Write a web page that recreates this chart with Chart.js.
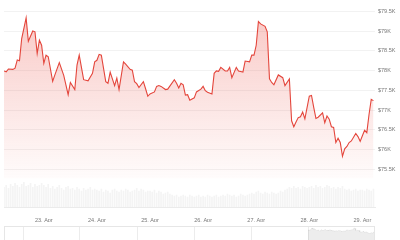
<!DOCTYPE html>
<html lang="en">
<head>
    <meta charset="UTF-8">
    <title>BTC price</title>
    <script src="https://cdn.jsdelivr.net/npm/chart.js"></script>
    <style>
        body {
            margin: 0;
            padding: 0;
            background: #fff;
            font-family: 'Liberation Sans', Arial, sans-serif;
        }
        #wrap {
            position: relative;
            width: 400px;
            height: 240px;
        }
        #priceChart {
            position: absolute;
            left: 0;
            top: 0;
        }
        #navChart {
            position: absolute;
            left: 0;
            top: 222px;
        }
    </style>
</head>
<body>
<div id="wrap">
    <canvas id="priceChart" width="400" height="222"></canvas>
    <canvas id="navChart" width="400" height="18"></canvas>
</div>

<script>
    // hours counted from 22 Apr 00:00
    const priceHours = [
        6, 7, 8, 10, 11, 12, 13, 14, 16, 17, 19, 20, 21, 22, 23,
        24, 25, 26, 28, 29, 31, 33, 35, 36, 38, 39, 40, 42, 44, 46, 47,
        48, 49, 50, 52, 53, 54, 56, 57, 58, 60, 61, 63, 64, 65, 66, 67, 69, 70, 71,
        72, 74, 75, 76, 77, 79, 80, 83, 84, 85, 86, 87, 88, 89, 90, 92, 93, 95,
        96, 97, 98, 100, 101, 102, 103, 104, 106, 107, 108, 109, 111, 112, 114, 115, 117, 118, 119,
        120, 121, 122, 124, 125, 126, 127, 128, 130, 132, 133, 135, 136, 137, 138, 139, 140, 141, 142,
        144, 145, 146, 147, 148, 150, 151, 152, 153, 154, 155, 156, 157, 158, 159, 160, 161, 162, 163, 165, 166, 167,
        168, 169, 170, 171, 172, 173
    ];
    const prices = [
        77990, 77970, 78040, 78030, 78060, 78270, 78250, 78810, 79330, 78740, 79000, 78980, 78430, 78770, 78640,
        78180, 78390, 78350, 77730, 77890, 78200, 77880, 77390, 77700, 77520, 78140, 78390, 77770, 77740, 77930, 78220,
        78260, 78410, 78390, 77720, 77680, 77960, 77620, 77810, 77520, 78220, 78160, 78030, 78010, 77720, 77670, 77570, 77720, 77540, 77350,
        77410, 77460, 77600, 77620, 77600, 77520, 77530, 77770, 77680, 77560, 77680, 77640, 77380, 77390, 77250, 77310, 77460, 77530,
        77600, 77490, 77450, 77410, 77930, 77990, 77980, 78080, 77990, 77990, 78080, 77820, 78080, 77990, 77960, 78240, 78220, 78390, 78390,
        78640, 79240, 79180, 79120, 78980, 77790, 77700, 77640, 77890, 77820, 77620, 77790, 76730, 76580, 76700, 76810, 76830, 76950, 76780,
        77350, 77370, 77070, 76790, 76820, 76930, 76680, 76850, 76770, 76580, 76560, 76180, 76290, 76180, 75830, 76020, 76080, 76180, 76220, 76410, 76330, 76210,
        76350, 76490, 76430, 76890, 77270, 77240
    ];

    // hourly volume, first bar at hour 6
    const volStartHour = 6;
    const volumes = [
        20, 22, 19, 23, 21, 24, 22, 20, 23, 25, 21, 22, 24, 20, 23, 21, 22, 24,
        22, 20, 23, 19, 21, 18, 20, 22, 19, 17, 20, 21, 18, 19, 17, 20, 18, 16, 19, 17, 18, 20, 17, 18,
        17, 16, 18, 15, 17, 16, 14, 17, 18, 16, 15, 17, 16, 18, 17, 15, 16, 17, 19, 16, 18, 17, 15, 16,
        16, 15, 17, 14, 16, 15, 13, 14, 15, 13, 12, 11, 12, 10, 11, 12, 11, 10, 12, 11, 10, 11, 12, 10,
        11, 10, 12, 11, 10, 11, 12, 10, 11, 12, 11, 13, 12, 11, 12, 10, 11, 13, 12, 11, 12, 13, 14, 13,
        15, 16, 14, 13, 15, 14, 13, 15, 14, 13, 14, 16, 15, 17, 18, 20, 19, 21, 19, 20, 18, 21, 20, 19,
        20, 21, 19, 22, 20, 21, 19, 20, 22, 21, 19, 20, 18, 20, 19, 21, 18, 17, 18, 16, 17, 18, 16, 17,
        17, 16, 18, 17, 16, 18
    ];

    const dayTicks = [24, 48, 72, 96, 120, 144, 168];
    const dayLabels = ['23. Apr', '24. Apr', '25. Apr', '26. Apr', '27. Apr', '28. Apr', '29. Apr'];
    const priceTicks = [75500, 76000, 76500, 77000, 77500, 78000, 78500, 79000, 79500];
    const navTicks = [-707, -565, -422, -279, -136, 6];

    const lineRed = 'rgb(228, 70, 60)';
    const fontSmall = { family: "'Liberation Sans', Arial, sans-serif", size: 5.5 };

    function areaGradient(context) {
        const area = context.chart.chartArea;
        if (!area) return 'rgba(232, 80, 70, 0.2)';
        const g = context.chart.ctx.createLinearGradient(0, area.top, 0, 178);
        g.addColorStop(0, 'rgba(235, 80, 70, 0.32)');
        g.addColorStop(1, 'rgba(235, 80, 70, 0.02)');
        return g;
    }

    new Chart(document.getElementById('priceChart'), {
        data: {
            datasets: [{
                type: 'line',
                data: priceHours.map((h, i) => ({ x: h, y: prices[i] })),
                borderColor: lineRed,
                borderWidth: 1.1,
                pointRadius: 0,
                tension: 0,
                fill: { value: 75275 },
                backgroundColor: areaGradient,
                yAxisID: 'y',
                order: 0
            }, {
                type: 'bar',
                data: volumes.map((v, i) => ({ x: volStartHour + i, y: v })),
                backgroundColor: '#f4f4f4',
                barThickness: 1,
                yAxisID: 'yv',
                order: 1
            }]
        },
        options: {
            responsive: false,
            animation: false,
            layout: { padding: { left: 4, top: 4, right: 0, bottom: 0 } },
            plugins: { legend: { display: false }, tooltip: { enabled: false } },
            scales: {
                x: {
                    type: 'linear',
                    offset: false,
                    min: 6,
                    max: 173.7,
                    afterBuildTicks: s => { s.ticks = dayTicks.map(v => ({ value: v })); },
                    afterFit: s => { s.height = 15; },
                    grid: { display: false, offset: false },
                    border: { display: true, color: '#ebebeb' },
                    ticks: {
                        autoSkip: false,
                        maxRotation: 0,
                        padding: 2,
                        color: '#777',
                        font: fontSmall,
                        callback: v => dayLabels[dayTicks.indexOf(v)]
                    }
                },
                y: {
                    position: 'right',
                    min: 74550,
                    max: 79625,
                    afterBuildTicks: s => { s.ticks = priceTicks.map(v => ({ value: v })); },
                    afterFit: s => { s.width = 25; },
                    grid: { color: '#f2f2f2', drawTicks: false },
                    border: { display: false },
                    ticks: {
                        padding: 3,
                        color: '#777',
                        font: fontSmall,
                        callback: v => '$' + (v / 1000) + 'K'
                    }
                },
                yv: {
                    display: false,
                    min: 0,
                    max: Math.max(...volumes) * 203 / 25
                }
            }
        }
    });

    // navigator box outline
    const navBox = {
        id: 'navBox',
        afterDraw(chart) {
            const a = chart.chartArea;
            const ctx = chart.ctx;
            ctx.save();
            ctx.strokeStyle = '#e6e6e6';
            ctx.lineWidth = 1;
            ctx.strokeRect(a.left + 0.5, a.top + 0.5, a.right - a.left - 1, a.bottom - a.top + 2);
            ctx.restore();
        }
    };

    new Chart(document.getElementById('navChart'), {
        type: 'line',
        data: {
            datasets: [{
                data: priceHours.map((h, i) => ({ x: h, y: prices[i] })),
                borderColor: 'rgba(0, 0, 0, 0.08)',
                borderWidth: 0.8,
                pointRadius: 0,
                fill: 'start',
                backgroundColor: 'rgba(0, 0, 0, 0.07)'
            }]
        },
        plugins: [navBox],
        options: {
            responsive: false,
            animation: false,
            layout: { padding: { left: 4, top: 4, right: 25, bottom: 0 } },
            plugins: { legend: { display: false }, tooltip: { enabled: false } },
            scales: {
                x: {
                    type: 'linear',
                    min: -755,
                    max: 173.7,
                    afterBuildTicks: s => { s.ticks = navTicks.map(v => ({ value: v })); },
                    afterFit: s => { s.height = 0; },
                    grid: { color: '#ececec', drawTicks: false },
                    border: { display: false },
                    ticks: { display: false }
                },
                y: {
                    display: false,
                    min: 72000,
                    max: 80500
                }
            }
        }
    });
</script>
</body>
</html>
